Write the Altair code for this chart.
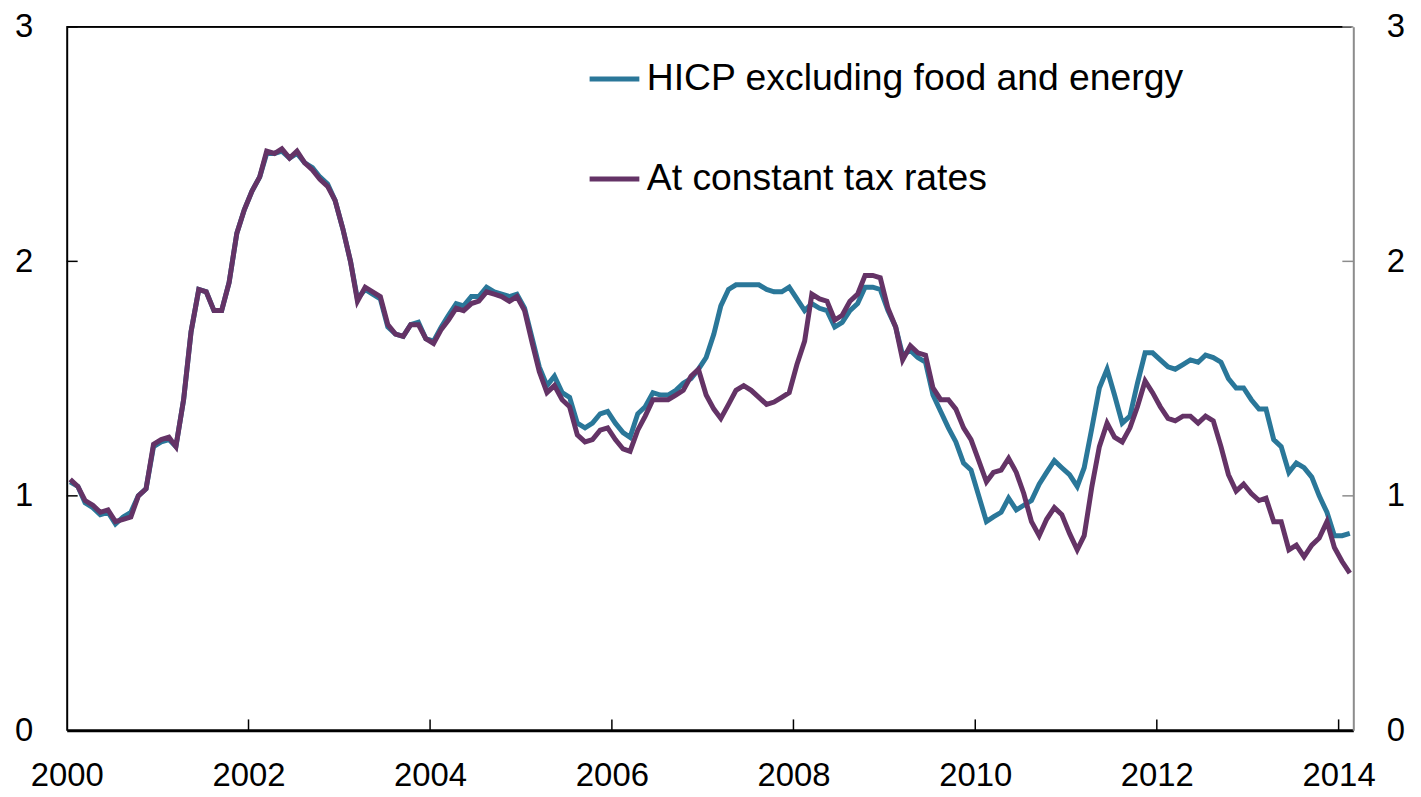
import altair as alt
import pandas as pd

# ---- data (monthly, Jan 2000 - Feb 2014, % y-o-y) ----
# points sit at the middle of each month, as in the reference
months = pd.date_range("2000-01-01", periods=170, freq="MS") + pd.Timedelta(days=14)

hicp_ex_food_energy = [
    1.06, 1.04, 0.97, 0.95, 0.92, 0.93, 0.88, 0.91, 0.93, 1.00, 1.03, 1.21,
    1.23, 1.24, 1.21, 1.41, 1.70, 1.88, 1.87, 1.79, 1.79, 1.91, 2.12, 2.22,
    2.30, 2.36, 2.46, 2.46, 2.47, 2.44, 2.46, 2.42, 2.40, 2.36, 2.33, 2.26,
    2.14, 2.00, 1.84, 1.88, 1.86, 1.84, 1.72, 1.69, 1.68, 1.73, 1.74, 1.67,
    1.66, 1.72, 1.77, 1.82, 1.81, 1.85, 1.85, 1.89, 1.87, 1.86, 1.85, 1.86,
    1.80, 1.67, 1.55, 1.47, 1.51, 1.44, 1.42, 1.31, 1.29, 1.31, 1.35, 1.36,
    1.31, 1.27, 1.25, 1.35, 1.38, 1.44, 1.43, 1.43, 1.45, 1.48, 1.50, 1.54,
    1.59, 1.69, 1.81, 1.88, 1.90, 1.90, 1.90, 1.90, 1.88, 1.87, 1.87, 1.89,
    1.84, 1.79, 1.82, 1.80, 1.79, 1.72, 1.74, 1.79, 1.82, 1.89, 1.89, 1.88,
    1.79, 1.72, 1.60, 1.62, 1.59, 1.57, 1.43, 1.36, 1.29, 1.23, 1.14, 1.11,
    1.00, 0.89, 0.91, 0.93, 0.99, 0.94, 0.96, 0.98, 1.05, 1.10, 1.15, 1.12,
    1.09, 1.04, 1.12, 1.29, 1.46, 1.54, 1.43, 1.31, 1.34, 1.48, 1.61, 1.61,
    1.58, 1.55, 1.54, 1.56, 1.58, 1.57, 1.60, 1.59, 1.57, 1.50, 1.46, 1.46,
    1.41, 1.37, 1.37, 1.24, 1.21, 1.10, 1.14, 1.12, 1.08, 1.00, 0.93, 0.83,
    0.83, 0.84,
]

constant_tax = [
    1.07, 1.04, 0.98, 0.96, 0.93, 0.94, 0.89, 0.90, 0.91, 1.00, 1.03, 1.22,
    1.24, 1.25, 1.21, 1.41, 1.70, 1.88, 1.87, 1.79, 1.79, 1.91, 2.12, 2.22,
    2.30, 2.36, 2.47, 2.46, 2.48, 2.44, 2.47, 2.42, 2.39, 2.35, 2.32, 2.26,
    2.14, 2.00, 1.83, 1.89, 1.87, 1.85, 1.73, 1.69, 1.68, 1.73, 1.73, 1.67,
    1.65, 1.71, 1.75, 1.80, 1.79, 1.82, 1.83, 1.87, 1.86, 1.85, 1.83, 1.85,
    1.79, 1.65, 1.53, 1.44, 1.47, 1.41, 1.38, 1.26, 1.23, 1.24, 1.28, 1.29,
    1.24, 1.20, 1.19, 1.28, 1.34, 1.41, 1.41, 1.41, 1.43, 1.45, 1.51, 1.54,
    1.43, 1.37, 1.33, 1.39, 1.45, 1.47, 1.45, 1.42, 1.39, 1.40, 1.42, 1.44,
    1.56, 1.66, 1.86, 1.84, 1.83, 1.75, 1.77, 1.83, 1.86, 1.94, 1.94, 1.93,
    1.80, 1.72, 1.58, 1.64, 1.61, 1.60, 1.46, 1.41, 1.41, 1.37, 1.29, 1.24,
    1.15, 1.06, 1.10, 1.11, 1.16, 1.10, 1.01, 0.89, 0.83, 0.90, 0.95, 0.92,
    0.84, 0.77, 0.83, 1.04, 1.21, 1.31, 1.25, 1.23, 1.29, 1.38, 1.49, 1.44,
    1.38, 1.33, 1.32, 1.34, 1.34, 1.31, 1.34, 1.32, 1.21, 1.09, 1.02, 1.05,
    1.01, 0.98, 0.99, 0.89, 0.89, 0.77, 0.79, 0.74, 0.79, 0.82, 0.89, 0.78,
    0.72, 0.67,
]

series_names = ["HICP excluding food and energy", "At constant tax rates"]
series_colors = ["#2a7799", "#643366"]
tick_years = [2000, 2002, 2004, 2006, 2008, 2010, 2012, 2014]
y_ticks = [0, 1, 2, 3]

df = pd.DataFrame({
    "date": list(months) + list(months),
    "value": hicp_ex_food_energy + constant_tax,
    "series": [series_names[0]] * len(months) + [series_names[1]] * len(months),
})
xt = pd.DataFrame({"date": [pd.Timestamp(year=y, month=1, day=1) for y in tick_years[1:]]})
yt = pd.DataFrame({"v": y_ticks[1:]})

W, H = 1293, 707
FONT = "Liberation Sans"

xscale = alt.Scale(domain=[alt.DateTime(year=2000, month=1, date=1),
                           alt.DateTime(year=2014, month=3, date=1)], nice=False)
yscale = alt.Scale(domain=[0, 3], nice=False, zero=False)

xaxis = alt.Axis(values=[alt.DateTime(year=y, month=1, date=1) for y in tick_years],
                 format="%Y", ticks=False, grid=False, domainColor="black",
                 domainWidth=3, labelFontSize=33, labelPadding=29, labelFlush=False,
                 labelFont=FONT, labelColor="black", title=None, labelOverlap=False)
yaxis_left = alt.Axis(values=y_ticks, orient="left", ticks=False, grid=False,
                      domainColor="black", domainWidth=2, labelFontSize=33,
                      labelPadding=34, labelFont=FONT, labelColor="black",
                      title=None, labelFlush=False)
yaxis_right = alt.Axis(values=y_ticks, orient="right", ticks=False, grid=False,
                       domainColor="#8c8c8c", domainWidth=2, labelFontSize=33,
                       labelPadding=33, labelFont=FONT, labelColor="black",
                       title=None, labelFlush=False)

color = alt.Color("series:N",
                  scale=alt.Scale(domain=series_names, range=series_colors),
                  legend=alt.Legend(title=None, orient="none", legendX=523, legendY=25,
                                    symbolType="stroke", symbolStrokeWidth=5,
                                    symbolSize=2500, labelFontSize=37.5, labelFont=FONT,
                                    labelColor="black", rowPadding=54.5, labelOffset=5,
                                    labelLimit=0))

base = alt.Chart(df)
x_enc = alt.X("date:T", scale=xscale, axis=xaxis)

blue = base.transform_filter(alt.datum.series == series_names[0]).mark_line(
    strokeWidth=5).encode(x=x_enc, y=alt.Y("value:Q", scale=yscale, axis=yaxis_left),
                          color=color)
purple = base.transform_filter(alt.datum.series == series_names[1]).mark_line(
    strokeWidth=5).encode(x=x_enc, y=alt.Y("value:Q", scale=yscale, axis=yaxis_right),
                          color=color)

top_line = alt.Chart(yt).mark_rule(color="black", strokeWidth=1.5).encode(
    x=alt.value(0), x2=alt.value(W - 2), y=alt.value(0))
x_ticks = alt.Chart(xt).mark_rule(color="black", strokeWidth=1.5).encode(
    x=alt.X("date:T", scale=xscale, axis=xaxis), y=alt.value(H - 11), y2=alt.value(H))
left_ticks = alt.Chart(yt).mark_rule(color="black", strokeWidth=1.5).encode(
    y=alt.Y("v:Q", scale=yscale, axis=None), x=alt.value(0), x2=alt.value(11))
right_ticks = alt.Chart(yt).mark_rule(color="#8c8c8c", strokeWidth=1.5).encode(
    y=alt.Y("v:Q", scale=yscale, axis=None), x=alt.value(W - 11), x2=alt.value(W))

chart = alt.layer(top_line, x_ticks, left_ticks, right_ticks, blue, purple).resolve_axis(
    y="independent").properties(
    width=W, height=H,
    autosize=alt.AutoSizeParams(type="none"),
    padding={"left": 59, "top": 17, "right": 60, "bottom": 60},
).configure_view(stroke=None).configure(background="white")

chart.save("out.html", embed_options={"renderer": "svg", "actions": False})
